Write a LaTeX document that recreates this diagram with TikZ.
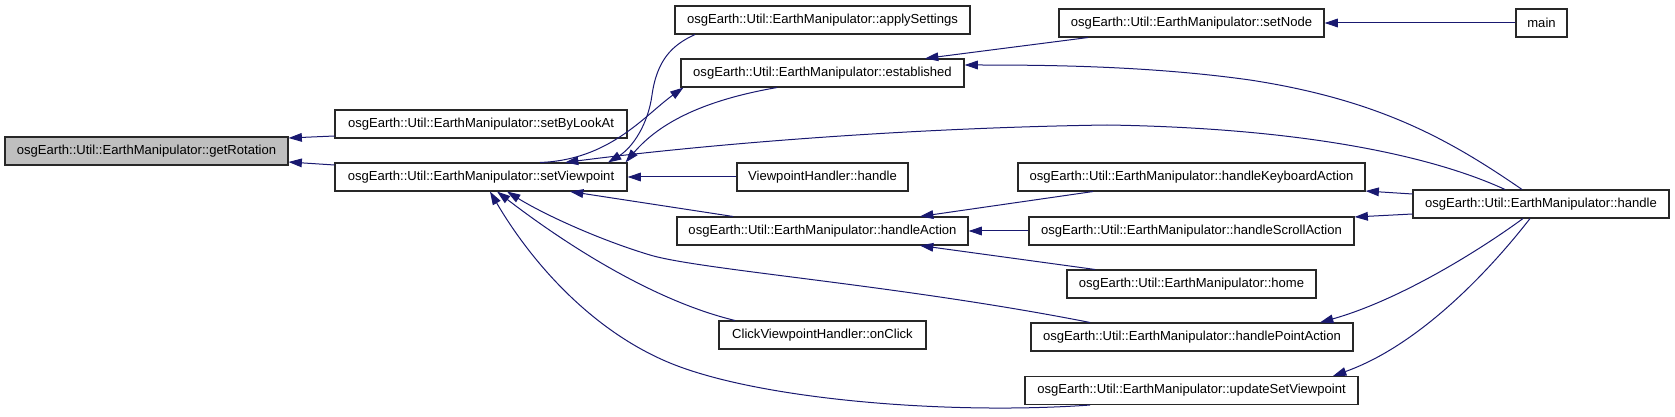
\documentclass[tikz,border=0pt]{standalone}
\usepackage{fontspec}
\setmainfont{Liberation Sans}
\usetikzlibrary{arrows.meta,calc}
\definecolor{edgeblue}{RGB}{25,25,112}
\definecolor{boxgray}{RGB}{191,191,191}
\definecolor{boxline}{RGB}{40,40,40}
\begin{document}
\begin{tikzpicture}[x=0.75pt,y=-0.75pt,
  fn/.style={draw=boxline,line width=0.8pt,fill=white,minimum height=21pt,
    minimum width={#1*0.75pt},inner sep=0pt,anchor=center,
    font=\fontsize{9.8}{11}\selectfont},
  edge/.style={draw=edgeblue,line width=0.75pt,
    -{Triangle[length=10pt,width=6.5pt]},color=edgeblue}]
\useasboundingbox (0,0) rectangle (1675,417);

% nodes
\node[fn=283,fill=boxgray] (getRotation) at (146.5,151) {osgEarth::Util::EarthManipulator::getRotation};
\node[fn=292] (setByLookAt) at (481,124) {osgEarth::Util::EarthManipulator::setByLookAt};
\node[fn=292] (setViewpoint) at (481,177) {osgEarth::Util::EarthManipulator::setViewpoint};
\node[fn=295] (applySettings) at (822.5,20) {osgEarth::Util::EarthManipulator::applySettings};
\node[fn=283] (established) at (822.5,73) {osgEarth::Util::EarthManipulator::established};
\node[fn=171] (vphandle) at (822.5,177) {ViewpointHandler::handle};
\node[fn=291] (handleAction) at (822.5,231) {osgEarth::Util::EarthManipulator::handleAction};
\node[fn=207] (onClick) at (822.5,335) {ClickViewpointHandler::onClick};
\node[fn=265] (setNode) at (1191.5,23) {osgEarth::Util::EarthManipulator::setNode};
\node[fn=347] (handleKB) at (1191.5,177) {osgEarth::Util::EarthManipulator::handleKeyboardAction};
\node[fn=325] (handleScroll) at (1191.5,231) {osgEarth::Util::EarthManipulator::handleScrollAction};
\node[fn=249] (home) at (1191.5,284) {osgEarth::Util::EarthManipulator::home};
\node[fn=322] (handlePoint) at (1192,337) {osgEarth::Util::EarthManipulator::handlePointAction};
\node[fn=333] (updateSV) at (1191.5,390.5) {osgEarth::Util::EarthManipulator::updateSetViewpoint};
\node[fn=51] (main) at (1541.5,23) {main};
\node[fn=256] (handle) at (1541,204) {osgEarth::Util::EarthManipulator::handle};

% edges
\draw[edge] ($(setByLookAt.west)+(0,12)$) -- ($(getRotation.east)+(0,-13)$);
\draw[edge] ($(setViewpoint.west)+(0,-12)$) -- ($(getRotation.east)+(0,11)$);
\draw[edge] ($(applySettings.south)+(-127.5,0)$) .. controls (672,45) and (657,60) .. (652,95)
   .. controls (648,125) and (632,148) .. ($(setViewpoint.north)+(127,0)$);
\draw[edge] ($(setViewpoint.north)+(59,0)$) .. controls (610,160) and (645,115) .. ($(established.south west)+(3,0)$);
\draw[edge] ($(established.south)+(-45.5,0)$) .. controls (705,100) and (660,122) .. ($(setViewpoint.north east)+(-2,0)$);
\draw[edge] ($(handle.north)+(-36,0)$) .. controls (1430,155) and (1300,128) .. (1107,125)
   .. controls (900,128) and (700,145) .. ($(setViewpoint.north)+(84,0)$);
\draw[edge] (vphandle.west) -- (setViewpoint.east);
\draw[edge] ($(handleAction.north)+(-89.5,0)$) -- ($(setViewpoint.south)+(89,0)$);
\draw[edge] ($(handlePoint.north)+(-102,0)$) .. controls (900,285) and (700,270) .. (650,255)
   .. controls (600,240) and (545,215) .. ($(setViewpoint.south)+(26,0)$);
\draw[edge] ($(onClick.north)+(-87.5,0)$) .. controls (650,300) and (560,240) .. ($(setViewpoint.south)+(16,0)$);
\draw[edge] ($(updateSV.south)+(-101.5,0)$) .. controls (950,415) and (760,400) .. (670,363)
   .. controls (590,330) and (530,260) .. ($(setViewpoint.south)+(9,0)$);
\draw[edge] ($(setNode.south)+(-103.5,0)$) -- ($(established.north)+(102.5,0)$);
\draw[edge] ($(handle.north)+(-19,0)$) .. controls (1450,140) and (1380,100) .. (1250,80)
   .. controls (1150,66) and (1050,65) .. ($(established.east)+(0,-8)$);
\draw[edge] (main.west) -- (setNode.east);
\draw[edge] ($(handleKB.south)+(-98.5,0)$) -- ($(handleAction.north)+(97.5,0)$);
\draw[edge] (handleScroll.west) -- (handleAction.east);
\draw[edge] ($(home.north)+(-96.5,0)$) -- ($(handleAction.south)+(97.5,0)$);
\draw[edge] ($(handle.west)+(0,-10)$) -- ($(handleKB.east)+(0,14)$);
\draw[edge] ($(handle.west)+(0,10)$) -- ($(handleScroll.east)+(0,-14)$);
\draw[edge] ($(handle.south)+(-18,0)$) .. controls (1480,250) and (1400,300) .. ($(handlePoint.north)+(128,0)$);
\draw[edge] ($(handle.south)+(-11,0)$) .. controls (1490,270) and (1420,345) .. ($(updateSV.north)+(141.5,0)$);
\end{tikzpicture}
\end{document}
